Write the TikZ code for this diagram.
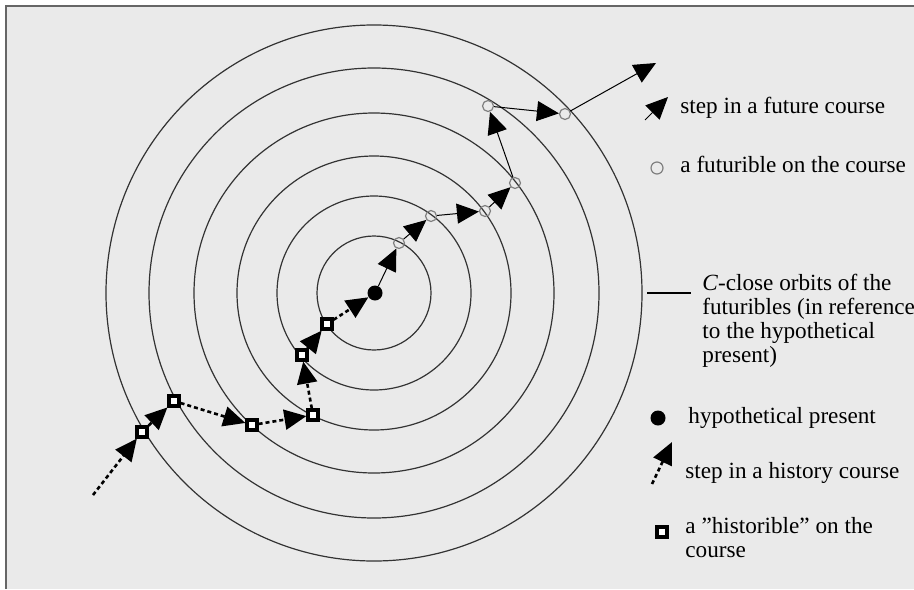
\documentclass[tikz,border=0pt]{standalone}
\usepackage{fontspec}
\setmainfont{Liberation Serif}
\usetikzlibrary{arrows.meta}
\definecolor{bggray}{HTML}{EAEAEA}
\begin{document}
\begin{tikzpicture}[
  x=0.5pt, y=-0.5pt,
  orbit/.style={draw=black!80, line width=0.6pt},
  futurible/.style={circle, draw=black!50, line width=0.6pt,
    minimum size=5.5pt, inner sep=0pt},
  historible/.style={rectangle, draw=black, fill=white, line width=2pt,
    minimum size=4.6pt, inner sep=0pt},
  present/.style={circle, fill=black, minimum size=7.5pt, inner sep=0pt},
  futstep/.style={-{Triangle[length=11pt,width=10pt]}, line width=0.5pt},
  hisstep/.style={-{Triangle[length=11pt,width=10pt]}, line width=1.3pt,
    dash pattern=on 2pt off 1.5pt},
  txt/.style={font=\fontsize{11.6}{11.85}\selectfont, anchor=base west,
    inner sep=0pt, align=left}
]
\useasboundingbox (0,0) rectangle (914,589);

% ================= BACKGROUND =================
\fill[bggray] (6,6) rectangle (914,589);
\draw[black!60, line width=0.8pt] (6,589) -- (6,6) -- (914,6);

% ================= ORBITS =================
\foreach \r in {57,97,137,180,225,268}
{
  \draw[orbit] (374,293) circle (\r);
}

% ================= FUTURE COURSE =================
\node[present] (p) at (375,293) {};

\node[futurible] (f1) at (399,243) {};
\node[futurible] (f2) at (431,216) {};
\node[futurible] (f3) at (485,211) {};
\node[futurible] (f4) at (515,183) {};
\node[futurible] (f5) at (488,106) {};
\node[futurible] (f6) at (565,114) {};
\coordinate (fe) at (656,63);

\draw[futstep] (p) -- (f1);
\draw[futstep] (f1) -- (f2);
\draw[futstep] (f2) -- (f3);
\draw[futstep] (f3) -- (f4);
\draw[futstep] (f4) -- (f5);
\draw[futstep] (f5) -- (f6);
\draw[futstep] (f6) -- (fe);

% ================= HISTORY COURSE =================
\coordinate (hs) at (93,495);
\node[historible] (h1) at (142,432) {};
\node[historible] (h2) at (174,401) {};
\node[historible] (h3) at (252,425) {};
\node[historible] (h4) at (313,415) {};
\node[historible] (h5) at (302,355) {};
\node[historible] (h6) at (327,324) {};

\draw[hisstep] (hs) -- (h1);
\draw[hisstep] (h1) -- (h2);
\draw[hisstep] (h2) -- (h3);
\draw[hisstep] (h3) -- (h4);
\draw[hisstep] (h4) -- (h5);
\draw[hisstep] (h5) -- (h6);
\draw[hisstep] (h6) -- (p);

% ================= ORBIT LABEL =================
% base of a multi-line node = last line
\node[txt] (orbtxt) at (702,362)
  {\textit{C}-close orbits of the\\futuribles (in reference\\to the hypothetical\\present)};
\coordinate (oe) at (647,293);
\coordinate (ol) at (691,293);
\draw[line width=0.6pt] (oe) -- (ol);

% ================= LEGEND =================
\coordinate (la1) at (645,120);
\coordinate (la2) at (668,97);
\draw[futstep] (la1) -- (la2);
\node[txt] (lt1) at (680,113) {step in a future course};

\node[futurible, minimum size=6pt] (lc) at (657,168) {};
\node[txt] (lt2) at (680,172) {a futurible on the course};

\node[present] (ld) at (658,418) {};
\node[txt] (lt3) at (688,423) {hypothetical present};

\coordinate (lb1) at (652,484);
\coordinate (lb2) at (672,442);
\draw[hisstep] (lb1) -- (lb2);
\node[txt] (lt4) at (685,478) {step in a history course};

\node[historible] (ls) at (662,532) {};
\node[txt] (lt5) at (685,557) {a ”historible” on the\\course};

\end{tikzpicture}
\end{document}
